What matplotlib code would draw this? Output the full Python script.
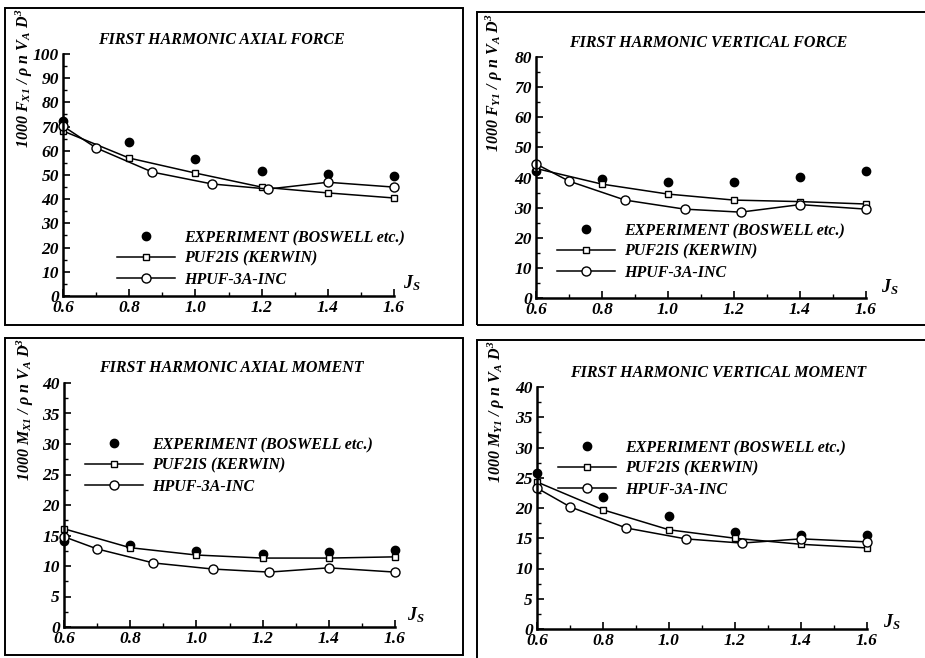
import matplotlib.pyplot as plt
from matplotlib.patches import Rectangle
from matplotlib.ticker import MultipleLocator

plt.rcParams['font.family'] = ['Liberation Serif', 'DejaVu Serif']
plt.rcParams['font.weight'] = 'bold'
plt.rcParams['font.style'] = 'italic'
plt.rcParams['mathtext.fontset'] = 'custom'
plt.rcParams['mathtext.rm'] = 'Liberation Serif:bold:italic'
plt.rcParams['mathtext.it'] = 'Liberation Serif:bold:italic'
plt.rcParams['mathtext.bf'] = 'Liberation Serif:bold:italic'
plt.rcParams['mathtext.default'] = 'regular'

# advance ratio values
j_exp = [0.6, 0.8, 1.0, 1.2, 1.4, 1.6]
j_puf = [0.6, 0.8, 1.0, 1.2, 1.4, 1.6]
j_hpuf = [0.6, 0.7, 0.87, 1.05, 1.22, 1.4, 1.6]

# first harmonic axial force
fx_exp = [72.3, 63.6, 56.6, 51.7, 50.4, 49.6]
fx_puf = [68.2, 57.0, 50.8, 45.0, 42.6, 40.5]
fx_hpuf = [70.2, 61.2, 51.2, 46.3, 44.2, 47.0, 45.0]

# first harmonic vertical force
fy_exp = [42.0, 39.5, 38.5, 38.5, 40.2, 42.3]
fy_puf = [43.0, 37.8, 34.5, 32.5, 32.0, 31.2]
fy_hpuf = [44.5, 38.8, 32.5, 29.5, 28.5, 31.0, 29.5]

# first harmonic axial moment
mx_exp = [14.1, 13.4, 12.5, 12.0, 12.3, 12.6]
mx_puf = [16.1, 13.0, 11.8, 11.3, 11.3, 11.5]
mx_hpuf = [14.8, 12.8, 10.5, 9.5, 9.0, 9.7, 9.0]

# first harmonic vertical moment
my_exp = [25.8, 21.8, 18.7, 16.0, 15.5, 15.5]
my_puf = [24.3, 19.7, 16.4, 15.0, 14.0, 13.4]
my_hpuf = [23.3, 20.2, 16.7, 14.9, 14.2, 14.9, 14.4]

titles = ['FIRST HARMONIC AXIAL FORCE', 'FIRST HARMONIC VERTICAL FORCE',
          'FIRST HARMONIC AXIAL MOMENT', 'FIRST HARMONIC VERTICAL MOMENT']
ylabels = ['1000 F$_{X1}$ / \u03c1 n V$_A$ D$^3$', '1000 F$_{Y1}$ / \u03c1 n V$_A$ D$^3$',
           '1000 M$_{X1}$ / \u03c1 n V$_A$ D$^3$', '1000 M$_{Y1}$ / \u03c1 n V$_A$ D$^3$']
labels = ['EXPERIMENT (BOSWELL etc.)', 'PUF2IS (KERWIN)', 'HPUF-3A-INC']

W, H = 925, 658
fig = plt.figure(figsize=(W / 100, H / 100), dpi=100)


def fx(x):
    return x / W


def fy(y):
    return 1 - y / H


panels = [
    # pixel boxes: axes (l, t, r, b), frame, text spots
    dict(ax=(63, 54, 394, 296), frame=(5, 8, 463, 325), ylim=100, major=10, minor=5,
         title=(221, 40), ylab=(24, 78), js=(412, 283), leg=(117, 230),
         data=(fx_exp, fx_puf, fx_hpuf)),
    dict(ax=(536, 57, 866, 298), frame=(477, 12, 940, 325), ylim=80, major=10, minor=5,
         title=(708, 43), ylab=(494, 83), js=(890, 287), leg=(557, 223),
         data=(fy_exp, fy_puf, fy_hpuf)),
    dict(ax=(64, 383, 395, 627), frame=(5, 338, 463, 655), ylim=40, major=5, minor=2.5,
         title=(231, 368), ylab=(25, 409), js=(416, 615), leg=(85, 437),
         data=(mx_exp, mx_puf, mx_hpuf)),
    dict(ax=(537, 387, 867, 629), frame=(477, 340, 940, 670), ylim=40, major=5, minor=2.5,
         title=(718, 373), ylab=(496, 412), js=(892, 622), leg=(558, 440),
         data=(my_exp, my_puf, my_hpuf)),
]

for i, p in enumerate(panels):
    l, t, r, b = p['ax']
    ax = fig.add_axes([fx(l), fy(b), fx(r) - fx(l), fy(t) - fy(b)])
    exp, puf, hpuf = p['data']
    ax.plot(j_exp, exp, 'o', color='black', ms=6, ls='none', label=labels[0], clip_on=False)
    ax.plot(j_puf, puf, '-s', color='black', lw=1.1, ms=4.5, mfc='white', mew=1,
            label=labels[1], clip_on=False)
    ax.plot(j_hpuf, hpuf, '-o', color='black', lw=1.1, ms=6.5, mfc='white', mew=1,
            label=labels[2], clip_on=False)
    ax.set_xlim(0.6, 1.6)
    ax.set_ylim(0, p['ylim'])
    ax.xaxis.set_major_locator(MultipleLocator(0.2))
    ax.xaxis.set_minor_locator(MultipleLocator(0.1))
    ax.yaxis.set_major_locator(MultipleLocator(p['major']))
    ax.yaxis.set_minor_locator(MultipleLocator(p['minor']))
    ax.xaxis.set_major_formatter(plt.FormatStrFormatter('%.1f'))
    for s in ['top', 'right']:
        ax.spines[s].set_visible(False)
    for s in ['left', 'bottom']:
        ax.spines[s].set_linewidth(1.8)
    ax.tick_params(which='major', direction='in', length=5, width=1.2, labelsize=12.5, pad=3)
    ax.tick_params(which='minor', direction='in', length=3, width=1)
    ax.patch.set_alpha(0)

    ax.legend(loc='upper left', bbox_to_anchor=(fx(p['leg'][0]), fy(p['leg'][1])),
              bbox_transform=fig.transFigure, frameon=False, borderpad=0,
              handlelength=3.6, handletextpad=0.6, labelspacing=0.3,
              fontsize=11.5, borderaxespad=0)

    fig.text(fx(p['title'][0]), fy(p['title'][1]), titles[i], ha='center', va='center',
             fontsize=11.5)
    fig.text(fx(p['ylab'][0]), fy(p['ylab'][1]), ylabels[i], ha='center', va='center',
             rotation=90, fontsize=11.5)
    fig.text(fx(p['js'][0]), fy(p['js'][1]), 'J$_S$', ha='center', va='center', fontsize=13)

    fl, ft, fr, fb = p['frame']
    fig.patches.append(Rectangle((fx(fl), fy(fb)), fx(fr) - fx(fl), fy(ft) - fy(fb),
                                 transform=fig.transFigure, fill=False, ec='black', lw=1.4))

fig.savefig('out.png', dpi=100)
